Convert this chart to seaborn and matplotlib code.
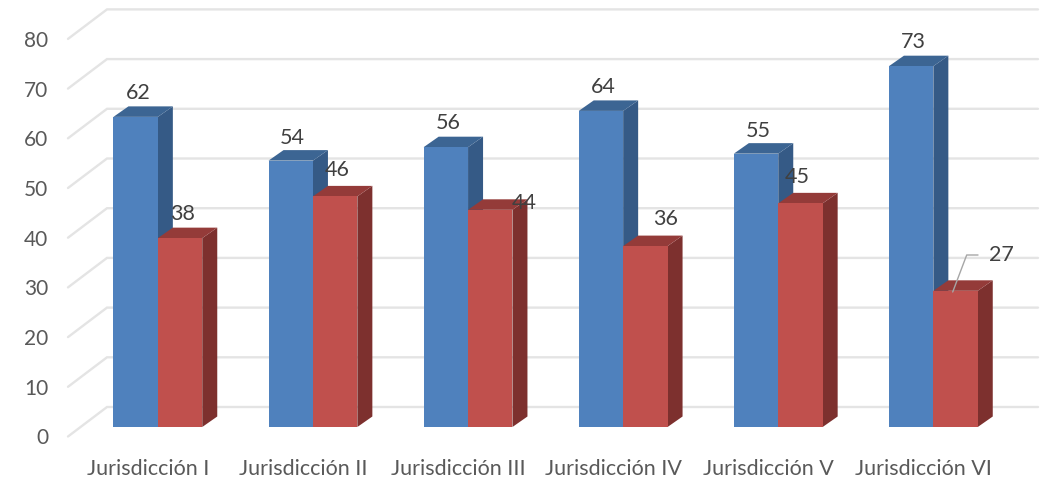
import pandas as pd
import numpy as np
import matplotlib
matplotlib.use("Agg")
import matplotlib.pyplot as plt
import matplotlib.transforms as mtrans
from matplotlib.patches import Polygon
import seaborn as sns

#data
categories = ["Jurisdicción I", "Jurisdicción II", "Jurisdicción III",
              "Jurisdicción IV", "Jurisdicción V", "Jurisdicción VI"]
serie_1 = [62.4, 53.6, 56.3, 63.6, 55.0, 72.6]
serie_2 = [38.0, 46.4, 43.7, 36.4, 45.0, 27.4]
y_ticks = [0, 10, 20, 30, 40, 50, 60, 70, 80]

df = pd.DataFrame({
    "cat": categories * 2,
    "serie": ["Serie 1"] * 6 + ["Serie 2"] * 6,
    "valor": serie_1 + serie_2,
})

#style
W, H = 1049, 479
sns.set_theme(style="white")
plt.rcParams["font.family"] = ["Lato", "DejaVu Sans"]

fig = plt.figure(figsize=(W / 100, H / 100), dpi=100)
# axes = front plane of the bars, in pixels
left, right, bottom, top = 80.3, 1010.9, 427.0, 29.4
ax = fig.add_axes([left / W, 1 - bottom / H, (right - left) / W, (bottom - top) / H])

sns.barplot(data=df, x="cat", y="valor", hue="serie", palette=["#4F81BD", "#C0504D"],
            width=0.5726, gap=0, dodge=True, saturation=1, legend=False, linewidth=0, ax=ax)
ax.set_xlim(-0.5, 5.5)
ax.set_ylim(0, 80)
ax.set_xlabel("")
ax.set_ylabel("")
sns.despine(ax=ax, left=True, bottom=True)

# pixel <-> data helpers
px_x = 6 / (right - left)
px_y = 80 / (bottom - top)


def x_px(p):
    return (p - left) * px_x - 0.5


#back wall grid
for v in y_ticks:
    y_back = v + 20 * px_y
    y_front = v - 9.5 * px_y
    ax.plot([x_px(68), x_px(107), x_px(1038)], [y_front, y_back, y_back], color="#E4E4E4",
            lw=1.7, clip_on=False, zorder=1, solid_joinstyle="miter")

#3d faces of the bars
dx = 15 * px_x
dy = 10.5 * px_y
shades = [("#355A86", "#3C6593"), ("#7D302E", "#943B39")]
for cont, (side_col, top_col) in zip(ax.containers, shades):
    for bar in cont:
        x0 = bar.get_x()
        x1 = x0 + bar.get_width()
        h = bar.get_height()
        ax.add_patch(Polygon([(x1, 0), (x1 + dx, dy), (x1 + dx, h + dy), (x1, h)],
                             color=side_col, lw=0, clip_on=False, zorder=2))
        ax.add_patch(Polygon([(x0, h), (x0 + dx, h + dy), (x1 + dx, h + dy), (x1, h)],
                             color=top_col, lw=0, clip_on=False, zorder=2.5))
        bar.set_zorder(3)

#data labels, offsets in pixels from top centre of the front face
offsets = [[(3, 24), (2, 23), (2, 24), (2, 24), (2, 23), (2, 24)],
           [(2, 24), (2, 26), (34, 7), (20, 27), (-3, 26), (46, 36)]]
for cont, offs in zip(ax.containers, offsets):
    for bar, (ox, oy) in zip(cont, offs):
        ax.annotate(f"{bar.get_height():.0f}", (bar.get_x() + bar.get_width() / 2, bar.get_height()),
                    xytext=(ox * 0.72, oy * 0.72), textcoords="offset points", ha="center", va="center",
                    fontsize=15.5, color="#404040", zorder=5, annotation_clip=False)

# leader line of the 27
ax.plot([x_px(952.7), x_px(966.7), x_px(978)],
        [(bottom - 292) * px_y, (bottom - 255) * px_y, (bottom - 255) * px_y],
        color="#A6A6A6", lw=1, clip_on=False, zorder=4)

#axis labels
ax.set_yticks(y_ticks)
ax.tick_params(axis="both", length=0, labelcolor="#595959")
ax.tick_params(axis="y", pad=23, labelsize=15)
ax.tick_params(axis="x", pad=23, labelsize=15.5)
shift_y = mtrans.ScaledTranslation(0, -9.5 / 100, fig.dpi_scale_trans)
shift_x = mtrans.ScaledTranslation(-10 / 100, 0, fig.dpi_scale_trans)
for lab in ax.get_yticklabels():
    lab.set_transform(lab.get_transform() + shift_y)
for lab in ax.get_xticklabels():
    lab.set_transform(lab.get_transform() + shift_x)

fig.savefig("out.png", dpi=100)
